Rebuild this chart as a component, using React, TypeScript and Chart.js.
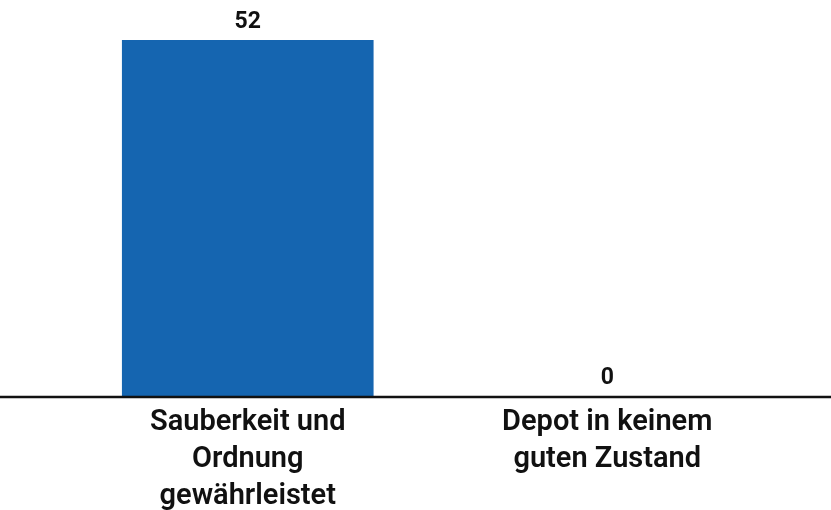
import React, { useEffect, useRef } from "react";
import { Chart, registerables } from "chart.js";

Chart.register(...registerables);

const categories: string[][] = [
  ["Sauberkeit und", "Ordnung", "gewährleistet"],
  ["Depot in keinem", "guten Zustand"],
];
const values: number[] = [52, 0];
const barColor = "#1565b0";

const valueLabelPlugin = {
  id: "valueLabels",
  afterDatasetsDraw(chart: any) {
    const ctx = chart.ctx;
    const meta = chart.getDatasetMeta(0);
    ctx.save();
    ctx.font = "bold 23px Roboto";
    ctx.fillStyle = "#111";
    ctx.textAlign = "center";
    ctx.textBaseline = "middle";
    meta.data.forEach((bar: any, i: number) => {
      ctx.fillText(String(values[i]), bar.x, bar.y - 18);
    });
    ctx.restore();
  },
};

const axisLinePlugin = {
  id: "axisLine",
  afterDatasetsDraw(chart: any) {
    const ctx = chart.ctx;
    const y = chart.scales.y.getPixelForValue(0);
    ctx.save();
    ctx.strokeStyle = "#111";
    ctx.lineWidth = 2.5;
    ctx.beginPath();
    ctx.moveTo(0, y + 1);
    ctx.lineTo(chart.width, y + 1);
    ctx.stroke();
    ctx.restore();
  },
};

export default function App() {
  const ref = useRef<HTMLCanvasElement>(null);
  useEffect(() => {
    const chart = new Chart(ref.current!, {
      type: "bar",
      data: {
        labels: categories,
        datasets: [
          {
            data: values,
            backgroundColor: barColor,
            barPercentage: 0.7,
            categoryPercentage: 1,
          },
        ],
      },
      options: {
        animation: false,
        responsive: false,
        maintainAspectRatio: false,
        layout: { padding: { left: 68, right: 44, top: 40, bottom: 0 } },
        plugins: { legend: { display: false }, tooltip: { enabled: false } },
        scales: {
          y: { display: false, min: 0, max: 52 },
          x: {
            grid: { display: false },
            border: { display: false },
            afterFit(scale: any) {
              scale.height = 114;
            },
            ticks: {
              color: "#111",
              padding: 0,
              maxRotation: 0,
              font: { family: "Roboto", size: 29, weight: 600, lineHeight: 1.28 },
            },
          },
        },
      },
      plugins: [valueLabelPlugin, axisLinePlugin],
    });
    return () => chart.destroy();
  }, []);
  return (
    <div style={{ position: "fixed", left: 0, top: 0, width: 831, height: 510, background: "#fff" }}>
      <canvas ref={ref} width={831} height={510} style={{ width: 831, height: 510 }} />
    </div>
  );
}
